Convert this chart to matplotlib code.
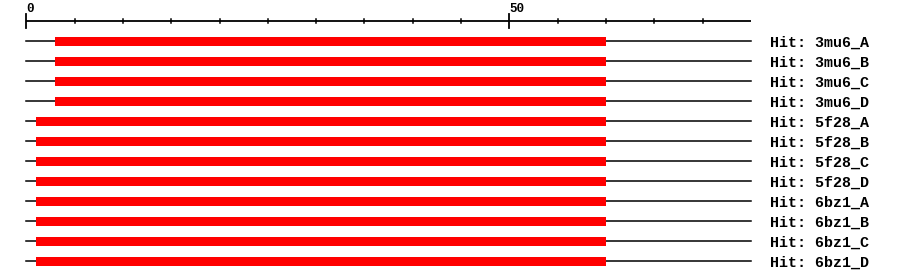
import matplotlib

matplotlib.use("Agg")

import matplotlib.pyplot as plt
import numpy as np

# query length and hit ranges (query coordinates)
query_len = 75
hits = ["3mu6_A", "3mu6_B", "3mu6_C", "3mu6_D",
        "5f28_A", "5f28_B", "5f28_C", "5f28_D",
        "6bz1_A", "6bz1_B", "6bz1_C", "6bz1_D"]
hit_start = [3, 3, 3, 3, 1, 1, 1, 1, 1, 1, 1, 1]
hit_end = [60, 60, 60, 60, 60, 60, 60, 60, 60, 60, 60, 60]
minor_step = 5
major_ticks = [0, 50]

W, H, DPI = 900, 280, 100
px_per_unit = 9.66
x0_px = 26.3

fig = plt.figure(figsize=(W / DPI, H / DPI), dpi=DPI)
ax = fig.add_axes([0, 0, 1, 1])
ax.set_xlim(-x0_px / px_per_unit, (W - x0_px) / px_per_unit)
ax.set_ylim((H - 41) / 20, -41 / 20)
ax.axis("off")

font = dict(family="Liberation Mono", weight="bold", fontsize=10.8)

# ruler
axis_y = -1
ax.plot([0, query_len], [axis_y, axis_y], color="black", lw=1.3, solid_capstyle="butt")
for t in range(0, query_len, minor_step):
    if t in major_ticks:
        ax.plot([t, t], [axis_y - 0.35, axis_y + 0.35], color="black", lw=1.3)
        ax.text(t, axis_y - 0.62, str(t), ha="left", va="center",
                family="Liberation Mono", weight="bold", fontsize=9)
    else:
        ax.plot([t, t], [axis_y - 0.12, axis_y + 0.12], color="black", lw=1.1)

# hit rows
for i, (name, s, e) in enumerate(zip(hits, hit_start, hit_end)):
    ax.plot([0, query_len], [i, i], color="black", lw=1.1, zorder=1)
    ax.barh(i, e - s, left=s, height=0.45, color="#ff0000", zorder=2)
    ax.text(77.0, i + 0.08, f"Hit: {name}", ha="left", va="center", **font)

fig.savefig("out.png", dpi=DPI, facecolor="white")
